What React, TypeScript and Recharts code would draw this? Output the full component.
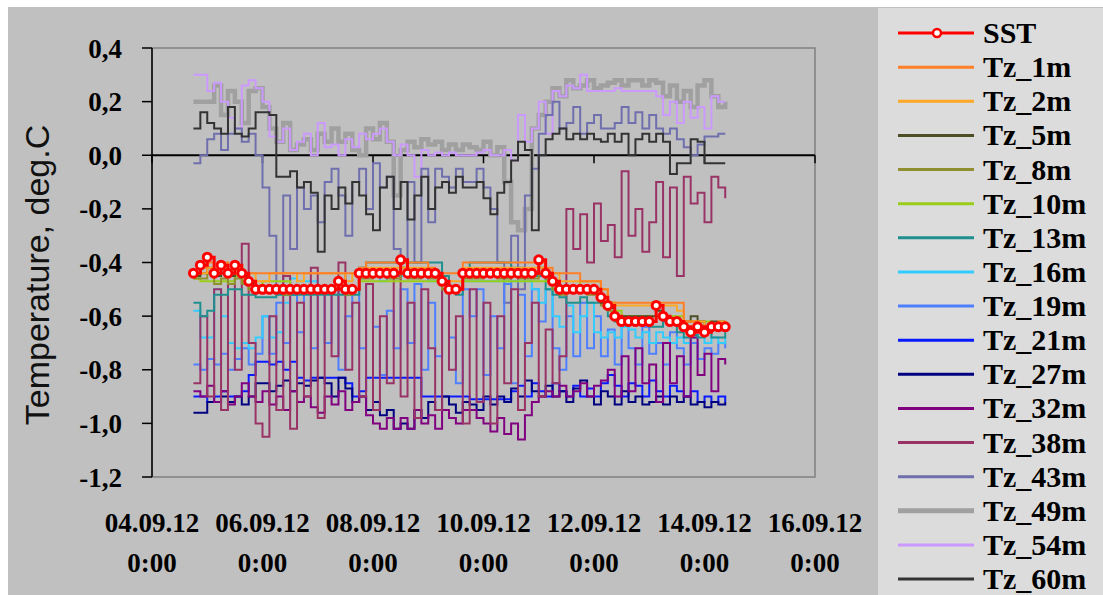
import { LineChart, Line, XAxis, YAxis, ReferenceLine, ReferenceArea } from 'recharts';

// sampling: every 3 h, from 04.09 18:00 (day 0.75) to 14.09 09:00 (day 10.375)
const days = Array.from({ length: 78 }, (_, i) => 0.75 + i * 0.125);

const tickDays = [0, 2, 4, 6, 8, 10, 12];
const tickDates = ['04.09.12', '06.09.12', '08.09.12', '10.09.12', '12.09.12', '14.09.12', '16.09.12'];
const tickTime = '0:00';
const yTicks = [-1.2, -1.0, -0.8, -0.6, -0.4, -0.2, 0, 0.2, 0.4];

const sst = [
  -0.44, -0.41, -0.38, -0.44, -0.41, -0.44, -0.41, -0.44, -0.47, -0.5,
  -0.5, -0.5, -0.5, -0.5, -0.5, -0.5, -0.5, -0.5, -0.5, -0.5,
  -0.5, -0.47, -0.5, -0.5, -0.44, -0.44, -0.44, -0.44, -0.44, -0.44,
  -0.39, -0.44, -0.44, -0.44, -0.44, -0.44, -0.47, -0.5, -0.5, -0.44,
  -0.44, -0.44, -0.44, -0.44, -0.44, -0.44, -0.44, -0.44, -0.44, -0.44,
  -0.39, -0.44, -0.47, -0.5, -0.5, -0.5, -0.5, -0.5, -0.5, -0.53,
  -0.56, -0.6, -0.62, -0.62, -0.62, -0.62, -0.62, -0.56, -0.6, -0.62,
  -0.62, -0.64, -0.66, -0.64, -0.66, -0.64, -0.64, -0.64,
];
const tz1 = [
  -0.44, -0.42, -0.4, -0.44, -0.4, -0.44, -0.42, -0.44, -0.44, -0.44,
  -0.44, -0.44, -0.44, -0.44, -0.44, -0.44, -0.44, -0.44, -0.44, -0.44,
  -0.44, -0.44, -0.44, -0.44, -0.42, -0.4, -0.4, -0.4, -0.4, -0.4,
  -0.4, -0.4, -0.4, -0.4, -0.42, -0.44, -0.44, -0.44, -0.44, -0.4,
  -0.4, -0.4, -0.4, -0.4, -0.4, -0.4, -0.4, -0.4, -0.4, -0.4,
  -0.4, -0.42, -0.44, -0.44, -0.44, -0.44, -0.47, -0.47, -0.47, -0.5,
  -0.55, -0.55, -0.55, -0.55, -0.55, -0.55, -0.55, -0.55, -0.55, -0.55,
  -0.55, -0.62, -0.62, -0.64, -0.64, -0.64, -0.64, -0.64,
];
const tz2 = [
  -0.44, -0.44, -0.42, -0.44, -0.42, -0.44, -0.44, -0.44, -0.44, -0.47,
  -0.47, -0.44, -0.44, -0.44, -0.44, -0.47, -0.44, -0.44, -0.44, -0.44,
  -0.44, -0.44, -0.47, -0.44, -0.44, -0.42, -0.42, -0.42, -0.42, -0.42,
  -0.42, -0.42, -0.42, -0.42, -0.44, -0.44, -0.47, -0.47, -0.47, -0.42,
  -0.42, -0.42, -0.42, -0.42, -0.42, -0.42, -0.42, -0.42, -0.42, -0.42,
  -0.42, -0.44, -0.44, -0.47, -0.47, -0.47, -0.47, -0.47, -0.47, -0.5,
  -0.55, -0.56, -0.56, -0.56, -0.56, -0.56, -0.56, -0.56, -0.56, -0.56,
  -0.58, -0.62, -0.62, -0.62, -0.64, -0.64, -0.62, -0.64,
];
const tz5 = [
  -0.45, -0.44, -0.42, -0.45, -0.44, -0.45, -0.44, -0.45, -0.48, -0.5,
  -0.5, -0.5, -0.5, -0.5, -0.5, -0.5, -0.5, -0.5, -0.5, -0.5,
  -0.5, -0.5, -0.5, -0.5, -0.45, -0.44, -0.44, -0.44, -0.44, -0.44,
  -0.42, -0.44, -0.44, -0.44, -0.44, -0.45, -0.48, -0.5, -0.5, -0.45,
  -0.44, -0.44, -0.44, -0.44, -0.44, -0.44, -0.44, -0.44, -0.44, -0.44,
  -0.42, -0.45, -0.48, -0.5, -0.5, -0.5, -0.5, -0.5, -0.5, -0.55,
  -0.57, -0.6, -0.6, -0.6, -0.6, -0.6, -0.6, -0.58, -0.6, -0.62,
  -0.62, -0.62, -0.6, -0.62, -0.64, -0.62, -0.62, -0.62,
];
const tz8 = [
  -0.46, -0.46, -0.44, -0.48, -0.46, -0.48, -0.46, -0.48, -0.5, -0.5,
  -0.5, -0.5, -0.5, -0.52, -0.5, -0.5, -0.5, -0.5, -0.5, -0.5,
  -0.5, -0.5, -0.52, -0.5, -0.46, -0.46, -0.44, -0.44, -0.46, -0.46,
  -0.44, -0.46, -0.46, -0.44, -0.46, -0.46, -0.5, -0.5, -0.5, -0.46,
  -0.46, -0.46, -0.44, -0.44, -0.46, -0.46, -0.44, -0.46, -0.46, -0.46,
  -0.44, -0.46, -0.5, -0.52, -0.5, -0.5, -0.5, -0.52, -0.52, -0.56,
  -0.58, -0.6, -0.6, -0.62, -0.6, -0.6, -0.62, -0.6, -0.6, -0.62,
  -0.62, -0.62, -0.62, -0.64, -0.64, -0.64, -0.64, -0.62,
];
const tz10 = [
  -0.46, -0.47, -0.47, -0.47, -0.47, -0.47, -0.45, -0.47, -0.5, -0.5,
  -0.47, -0.47, -0.47, -0.47, -0.5, -0.5, -0.5, -0.5, -0.5, -0.5,
  -0.5, -0.5, -0.5, -0.5, -0.47, -0.47, -0.47, -0.47, -0.47, -0.47,
  -0.47, -0.47, -0.47, -0.47, -0.47, -0.47, -0.5, -0.5, -0.5, -0.47,
  -0.47, -0.47, -0.47, -0.47, -0.47, -0.47, -0.47, -0.47, -0.47, -0.47,
  -0.47, -0.47, -0.5, -0.5, -0.5, -0.5, -0.47, -0.47, -0.47, -0.5,
  -0.55, -0.58, -0.6, -0.6, -0.6, -0.6, -0.6, -0.6, -0.6, -0.6,
  -0.6, -0.62, -0.62, -0.62, -0.62, -0.64, -0.64, -0.64,
];
const tz13 = [
  -0.55, -0.6, -0.58, -0.52, -0.52, -0.5, -0.5, -0.52, -0.52, -0.53,
  -0.53, -0.53, -0.52, -0.52, -0.52, -0.52, -0.52, -0.52, -0.52, -0.52,
  -0.52, -0.52, -0.52, -0.52, -0.42, -0.4, -0.4, -0.4, -0.4, -0.4,
  -0.4, -0.4, -0.4, -0.4, -0.4, -0.4, -0.45, -0.5, -0.52, -0.45,
  -0.4, -0.4, -0.4, -0.4, -0.4, -0.4, -0.42, -0.42, -0.45, -0.45,
  -0.45, -0.5, -0.52, -0.53, -0.55, -0.55, -0.53, -0.55, -0.55, -0.55,
  -0.6, -0.62, -0.62, -0.62, -0.62, -0.62, -0.64, -0.64, -0.62, -0.62,
  -0.66, -0.68, -0.67, -0.68, -0.66, -0.68, -0.68, -0.66,
];
const tz16 = [
  -0.58, -0.68, -0.68, -0.5, -0.6, -0.7, -0.72, -0.7, -0.72, -0.68,
  -0.6, -0.68, -0.66, -0.55, -0.46, -0.47, -0.47, -0.47, -0.5, -0.5,
  -0.5, -0.47, -0.5, -0.5, -0.45, -0.45, -0.45, -0.47, -0.45, -0.45,
  -0.45, -0.45, -0.45, -0.45, -0.47, -0.47, -0.5, -0.5, -0.5, -0.47,
  -0.47, -0.47, -0.47, -0.47, -0.47, -0.47, -0.47, -0.47, -0.47, -0.5,
  -0.55, -0.5, -0.6, -0.64, -0.56, -0.66, -0.6, -0.55, -0.66, -0.68,
  -0.66, -0.68, -0.64, -0.65, -0.68, -0.66, -0.7, -0.66, -0.68, -0.7,
  -0.68, -0.7, -0.68, -0.66, -0.7, -0.68, -0.7, -0.68,
];
const tz19 = [
  -0.78, -0.8, -0.76, -0.78, -0.74, -0.8, -0.76, -0.72, -0.78, -0.74,
  -0.6, -0.74, -0.55, -0.7, -0.52, -0.66, -0.5, -0.72, -0.5, -0.7,
  -0.5, -0.8, -0.6, -0.5, -0.72, -0.48, -0.64, -0.82, -0.58, -0.72,
  -0.5, -0.7, -0.48, -0.8, -0.55, -0.75, -0.5, -0.68, -0.85, -0.5,
  -0.6, -0.5, -0.82, -0.6, -0.72, -0.48, -0.85, -0.52, -0.75, -0.5,
  -0.62, -0.5, -0.72, -0.8, -0.6, -0.75, -0.55, -0.72, -0.6, -0.75,
  -0.65, -0.78, -0.62, -0.72, -0.78, -0.64, -0.74, -0.7, -0.78, -0.66,
  -0.72, -0.78, -0.7, -0.76, -0.72, -0.74, -0.7, -0.72,
];
const tz21 = [
  -0.9, -0.9, -0.92, -0.9, -0.88, -0.9, -0.9, -0.88, -0.82, -0.77,
  -0.77, -0.78, -0.77, -0.8, -0.77, -0.83, -0.84, -0.83, -0.83, -0.83,
  -0.83, -0.83, -0.85, -0.9, -0.88, -0.83, -0.83, -0.83, -0.83, -0.83,
  -0.83, -0.83, -0.83, -0.9, -0.9, -0.9, -0.9, -0.9, -0.9, -0.9,
  -0.91, -0.91, -0.91, -0.91, -0.91, -0.91, -0.88, -0.86, -0.9, -0.85,
  -0.88, -0.9, -0.85, -0.88, -0.9, -0.86, -0.9, -0.87, -0.9, -0.85,
  -0.82, -0.86, -0.9, -0.85, -0.86, -0.9, -0.84, -0.88, -0.9, -0.86,
  -0.88, -0.9, -0.88, -0.92, -0.9, -0.92, -0.9, -0.92,
];
const tz27 = [
  -0.96, -0.96, -0.92, -0.92, -0.9, -0.92, -0.9, -0.93, -0.9, -0.85,
  -0.85, -0.88, -0.86, -0.84, -0.88, -0.85, -0.86, -0.84, -0.83, -0.85,
  -0.9, -0.83, -0.87, -0.92, -0.9, -0.95, -0.92, -0.97, -0.95, -1.02,
  -1.0, -1.02, -0.95, -0.98, -0.92, -0.95, -0.9, -0.93, -0.96, -0.92,
  -0.93, -0.95, -0.9, -0.93, -0.9, -0.92, -0.87, -0.9, -0.84, -0.88,
  -0.9, -0.86, -0.9, -0.88, -0.92, -0.87, -0.84, -0.9, -0.93, -0.88,
  -0.9, -0.93, -0.88, -0.92, -0.9, -0.93, -0.92, -0.9, -0.93, -0.9,
  -0.92, -0.9, -0.93, -0.92, -0.94, -0.92, -0.93, -0.92,
];
const tz32 = [
  -0.88, -0.9, -0.86, -0.92, -0.88, -0.93, -0.9, -0.85, -0.9, -0.92,
  -0.88, -0.93, -0.9, -0.95, -0.88, -0.92, -0.9, -0.94, -0.96, -0.9,
  -0.93, -0.88, -0.95, -0.92, -0.9, -0.97, -1.0, -1.02, -0.98, -1.02,
  -0.98, -1.02, -0.95, -1.0, -0.97, -1.02, -0.95, -0.98, -1.0, -0.95,
  -0.95, -0.98, -1.0, -1.03, -0.98, -1.04, -1.0, -1.06, -0.97, -0.92,
  -0.9, -0.88, -0.9, -0.86, -0.9, -0.88, -0.85, -0.9, -0.86, -0.84,
  -0.8, -0.9, -0.75, -0.88, -0.72, -0.85, -0.78, -0.92, -0.7, -0.85,
  -0.75, -0.9, -0.68, -0.82, -0.74, -0.88, -0.76, -0.78,
];
const tz38 = [
  -0.85, -0.6, -0.9, -0.5, -0.95, -0.45, -0.8, -0.33, -0.7, -1.0,
  -1.05, -0.6, -0.95, -0.45, -1.02, -0.55, -0.9, -0.42, -0.98, -0.5,
  -0.75, -0.4, -0.8, -0.55, -0.9, -0.48, -0.95, -0.6, -0.85, -0.45,
  -0.9, -0.55, -0.98, -0.5, -0.72, -0.95, -0.45, -0.8, -0.6, -1.0,
  -0.5, -0.92, -0.55, -1.0, -0.6, -0.85, -0.5, -0.95, -0.7, -0.55,
  -0.9, -0.65, -0.85, -0.75, -0.2, -0.35, -0.22, -0.4, -0.18, -0.32,
  -0.26, -0.38, -0.06, -0.3, -0.2, -0.36, -0.25, -0.1, -0.38, -0.12,
  -0.45, -0.08, -0.18, -0.14, -0.25, -0.08, -0.12, -0.16,
];
const tz43 = [
  -0.03, 0.0, 0.06, 0.08, 0.02, 0.08, 0.1, 0.05, 0.08, 0.0,
  -0.12, -0.3, -0.5, -0.15, -0.35, -0.12, -0.2, -0.15, -0.25, -0.1,
  -0.05, -0.15, -0.3, -0.1, -0.05, -0.2, -0.03, -0.12, -0.08, -0.35,
  -0.45, -0.1, -0.4, -0.05, -0.25, -0.05, -0.08, -0.12, -0.05, -0.1,
  -0.1, -0.05, -0.12, -0.2, -0.4, -0.55, -0.3, -0.5, -0.15, -0.05,
  0.08, 0.15, 0.2, 0.1, 0.12, 0.18, 0.08, 0.12, 0.15, 0.1,
  0.1, 0.12, 0.18, 0.12, 0.16, 0.1, 0.15, 0.1, 0.08, 0.1,
  0.06, 0.03, 0.0, 0.04, 0.07, 0.07, 0.08, 0.08,
];
const tz49 = [
  0.2, 0.2, 0.2, 0.26, 0.15, 0.24, 0.2, 0.12, 0.24, 0.25,
  0.18, 0.1, 0.05, 0.12, 0.02, 0.04, 0.06, 0.02, 0.08, 0.05,
  0.1, 0.05, 0.08, 0.02, 0.0, 0.1, 0.06, 0.12, 0.05, -0.15,
  0.02, 0.05, 0.03, 0.06, 0.04, 0.05, 0.02, 0.04, 0.02, 0.04,
  0.03, 0.02, 0.05, 0.0, 0.03, -0.1, -0.25, -0.28, -0.2, 0.1,
  0.15, 0.2, 0.25, 0.22, 0.28, 0.25, 0.26, 0.28, 0.25, 0.26,
  0.27, 0.28, 0.26, 0.28, 0.28, 0.26, 0.28, 0.27, 0.22, 0.26,
  0.2, 0.24, 0.18, 0.26, 0.28, 0.22, 0.18, 0.2,
];
const tz54 = [
  0.3, 0.3, 0.24, 0.27, 0.2, 0.14, 0.1, 0.26, 0.28, 0.25,
  0.2, 0.07, 0.05, 0.1, 0.02, 0.05, 0.08, 0.0, 0.12, 0.03,
  0.04, 0.0, 0.06, 0.03, 0.08, 0.06, 0.08, 0.1, 0.05, 0.0,
  0.04, 0.0, -0.08, 0.02, 0.0, 0.01, 0.0, 0.01, 0.0, 0.0,
  0.0, 0.01, 0.02, 0.0, 0.0, 0.02, -0.02, 0.15, 0.05, 0.1,
  0.2, 0.08, 0.24, 0.22, 0.26, 0.25, 0.3, 0.24, 0.24, 0.24,
  0.24, 0.25, 0.24, 0.24, 0.24, 0.24, 0.24, 0.22, 0.15, 0.2,
  0.12, 0.2, 0.14, 0.18, 0.1, 0.22, 0.2, 0.2,
];
const tz60 = [
  0.1, 0.16, 0.12, 0.1, 0.08, 0.18, 0.08, 0.07, 0.1, 0.16,
  0.16, 0.15, -0.08, -0.08, -0.06, -0.12, -0.1, -0.14, -0.36, -0.15,
  -0.2, -0.12, -0.18, -0.1, -0.15, -0.22, -0.28, -0.12, -0.08, -0.2,
  -0.1, -0.24, -0.15, -0.08, -0.2, -0.12, -0.1, -0.14, -0.08, -0.12,
  -0.12, -0.1, -0.16, -0.22, -0.14, -0.1, -0.02, 0.05, 0.02, -0.28,
  0.0, 0.06, 0.08, 0.1, 0.06, 0.08, 0.06, 0.08, 0.06, 0.05,
  0.08, 0.05, 0.08, 0.0, 0.06, 0.08, 0.05, 0.08, 0.05, -0.07,
  -0.03, -0.03, 0.06, 0.05, -0.03, -0.03, -0.03, -0.03,
];

const series = [
  { key: 'SST', values: sst, color: '#ff0000', width: 3 },
  { key: 'Tz_1m', values: tz1, color: '#ff7f27', width: 2 },
  { key: 'Tz_2m', values: tz2, color: '#ffa726', width: 2 },
  { key: 'Tz_5m', values: tz5, color: '#4d4d26', width: 2 },
  { key: 'Tz_8m', values: tz8, color: '#8f8f30', width: 2 },
  { key: 'Tz_10m', values: tz10, color: '#9acd1a', width: 2 },
  { key: 'Tz_13m', values: tz13, color: '#1f8f8f', width: 2 },
  { key: 'Tz_16m', values: tz16, color: '#33ccff', width: 2 },
  { key: 'Tz_19m', values: tz19, color: '#4d7fff', width: 2 },
  { key: 'Tz_21m', values: tz21, color: '#0a1aff', width: 2 },
  { key: 'Tz_27m', values: tz27, color: '#000080', width: 2 },
  { key: 'Tz_32m', values: tz32, color: '#800080', width: 2 },
  { key: 'Tz_38m', values: tz38, color: '#993366', width: 2 },
  { key: 'Tz_43m', values: tz43, color: '#6f6fae', width: 2 },
  { key: 'Tz_49m', values: tz49, color: '#a0a0a0', width: 4.5 },
  { key: 'Tz_54m', values: tz54, color: '#cc99ff', width: 2 },
  { key: 'Tz_60m', values: tz60, color: '#333333', width: 2 },
];

// back to front
const drawOrder = [
  'Tz_49m', 'Tz_54m', 'Tz_43m', 'Tz_60m',
  'Tz_19m', 'Tz_16m', 'Tz_21m', 'Tz_27m', 'Tz_32m', 'Tz_38m',
  'Tz_13m', 'Tz_10m', 'Tz_8m', 'Tz_5m', 'Tz_2m', 'Tz_1m', 'SST',
];

const serif = '"Liberation Serif", "Times New Roman", serif';

function DateTick(props: any) {
  const { x, y, payload } = props;
  const label = tickDates[tickDays.indexOf(payload.value)];
  return (
    <g>
      <text x={x} y={y + 55} textAnchor="middle" fontFamily={serif} fontWeight="bold" fontSize={27} fill="#000">
        {label}
      </text>
      <text x={x} y={y + 95} textAnchor="middle" fontFamily={serif} fontWeight="bold" fontSize={27} fill="#000">
        {tickTime}
      </text>
    </g>
  );
}

export default function App() {
  const rows = days.map((t, i) => {
    const r: Record<string, number> = { t };
    series.forEach((s) => (r[s.key] = s.values[i]));
    return r;
  });
  const byKey: Record<string, (typeof series)[number]> = {};
  series.forEach((s) => (byKey[s.key] = s));

  return (
    <div style={{ position: 'absolute', left: 0, top: 0, width: 1103, height: 595, background: '#fff', overflow: 'hidden' }}>
      <div style={{ position: 'absolute', left: 8, top: 7, width: 1095, height: 588, background: '#c0c0c0' }} />
      <div
        style={{
          position: 'absolute',
          left: 37,
          top: 275,
          transform: 'translate(-50%, -50%) rotate(-90deg)',
          whiteSpace: 'nowrap',
          fontFamily: '"Liberation Sans", Arial, sans-serif',
          fontSize: 34,
          color: '#111',
        }}
      >
        Temperature, deg.C
      </div>
      <div style={{ position: 'absolute', left: 0, top: 0 }}>
        <LineChart width={880} height={595} data={rows} margin={{ top: 48, right: 65, bottom: 48, left: 92 }}>
          <ReferenceArea x1={0} x2={12} y1={-1.2} y2={0.4} fill="none" stroke="#808080" strokeWidth={1.5} />
          <XAxis
            type="number"
            dataKey="t"
            domain={[0, 12]}
            ticks={tickDays}
            interval={0}
            height={70}
            axisLine={false}
            tickLine={false}
            tickSize={0}
            tickMargin={0}
            tick={<DateTick />}
          />
          <YAxis
            type="number"
            domain={[-1.2, 0.4]}
            ticks={yTicks}
            interval={0}
            width={60}
            axisLine={{ stroke: '#000', strokeWidth: 1.5 }}
            tickLine={{ stroke: '#000', strokeWidth: 1.5 }}
            tickSize={10}
            tickMargin={20}
            tick={{ fill: '#000', fontSize: 27, fontWeight: 'bold', fontFamily: serif }}
            tickFormatter={(v: number) => v.toFixed(1).replace('.', ',')}
          />
          <ReferenceLine y={0} stroke="#000" strokeWidth={2} />
          {tickDays.map((d) => (
            <ReferenceLine key={'tk' + d} segment={[{ x: d, y: 0 }, { x: d, y: -0.03 }]} stroke="#000" strokeWidth={1.5} />
          ))}
          {drawOrder.map((key) => {
            const s = byKey[key];
            return (
              <Line
                key={key}
                type="stepAfter"
                dataKey={key}
                stroke={s.color}
                strokeWidth={s.width}
                dot={key === 'SST' ? { r: 4, fill: '#fff', stroke: '#ff0000', strokeWidth: 3 } : false}
                activeDot={false}
                isAnimationActive={false}
              />
            );
          })}
        </LineChart>
      </div>
      <svg style={{ position: 'absolute', left: 878, top: 8 }} width={225} height={587}>
        <rect x={0} y={0} width={225} height={587} fill="#dcdcdc" />
        {series.map((s, k) => {
          const y = 25 + k * 34.125;
          return (
            <g key={s.key}>
              <line x1={20} x2={96} y1={y} y2={y} stroke={s.color} strokeWidth={s.key === 'Tz_49m' ? 5 : 3} />
              {s.key === 'SST' && <circle cx={59} cy={y} r={4} fill="#fff" stroke="#ff0000" strokeWidth={2.5} />}
              <text x={105} y={y + 10} fontFamily={serif} fontWeight="bold" fontSize={30} fill="#000">
                {s.key}
              </text>
            </g>
          );
        })}
      </svg>
    </div>
  );
}
